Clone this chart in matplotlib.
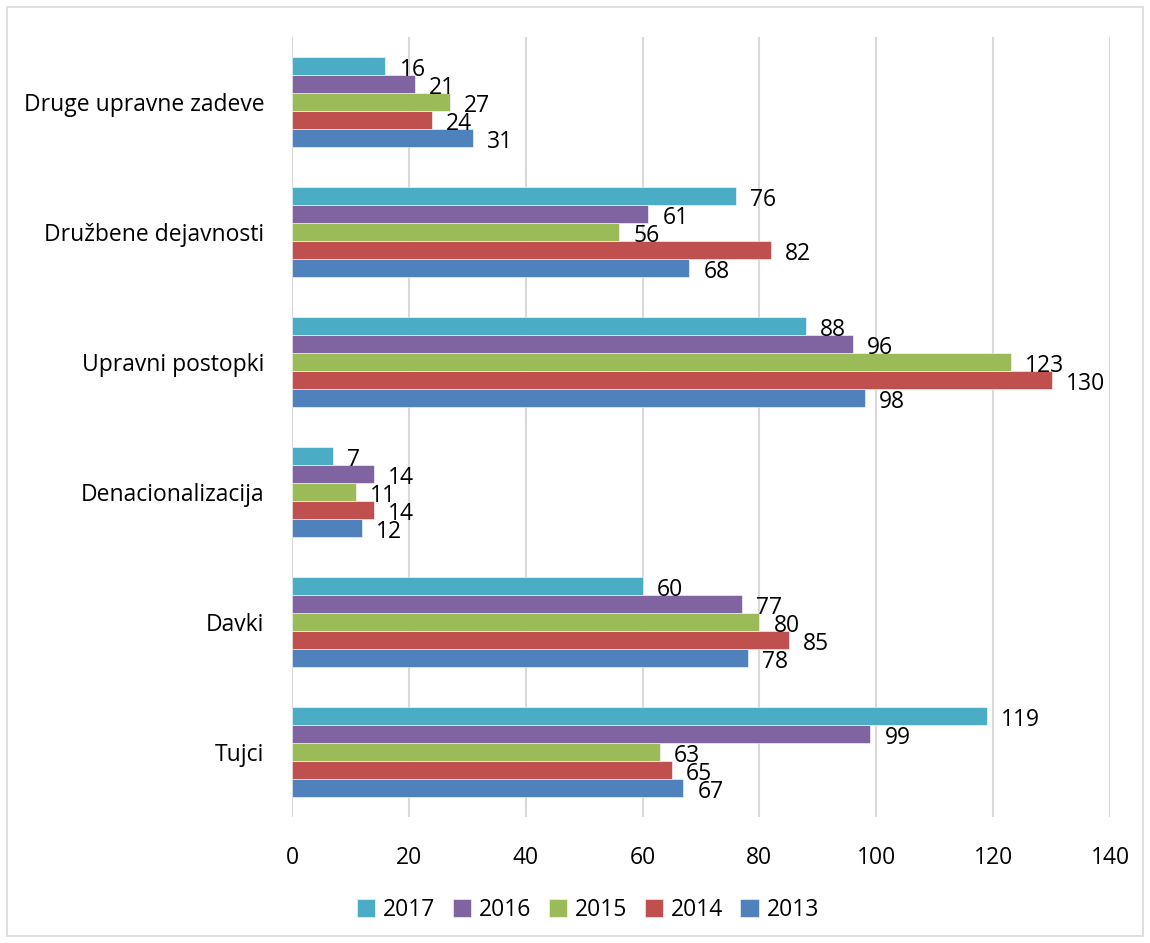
import matplotlib
matplotlib.use("Agg")
import matplotlib.pyplot as plt
from matplotlib.patches import Rectangle
import numpy as np

categories = ["Tujci", "Davki", "Denacionalizacija", "Upravni postopki",
              "Družbene dejavnosti", "Druge upravne zadeve"]
years = ["2013", "2014", "2015", "2016", "2017"]
v2013 = [67, 78, 12, 98, 68, 31]
v2014 = [65, 85, 14, 130, 82, 24]
v2015 = [63, 80, 11, 123, 56, 27]
v2016 = [99, 77, 14, 96, 61, 21]
v2017 = [119, 60, 7, 88, 76, 16]
series = [v2013, v2014, v2015, v2016, v2017]
colors = ["#4F81BD", "#C0504D", "#9BBB59", "#8064A2", "#4BACC6"]
xticks = [0, 20, 40, 60, 80, 100, 120, 140]

plt.rcParams['font.family'] = ['Open Sans', 'DejaVu Sans']
FS = 16.5

fig = plt.figure(figsize=(11.5, 9.43), dpi=100)
ax = fig.add_axes([292/1150, 1-817/943, (1110-292)/1150, (817-37)/943])

h = 18/130
y = np.arange(len(categories))
handles = []
for i, (vals, c, yr) in enumerate(zip(series, colors, years)):
    off = (i - 2) * h
    b = ax.barh(y + off, vals, height=h, color=c, edgecolor='white', linewidth=0.4,
                label=yr, zorder=3)
    handles.append(b)
    for yy, v in zip(y + off, vals):
        ax.text(v + 2.4, yy - 0.03, str(v), va='center', ha='left', fontsize=FS,
                color='black', zorder=4)

ax.set_xlim(0, 140)
ax.set_ylim(-0.5, len(categories) - 0.5)
ax.set_xticks(xticks)
ax.set_xticklabels([str(t) for t in xticks], fontsize=FS)
ax.set_yticks(y)
ax.set_yticklabels(categories, fontsize=FS)
ax.tick_params(axis='x', length=0, pad=21)
ax.tick_params(axis='y', length=0, pad=20)
for s in ax.spines.values():
    s.set_visible(False)
ax.grid(axis='x', color='#D9D9D9', linewidth=1.5, zorder=0)
ax.set_axisbelow(True)

fig.legend(handles[::-1], years[::-1], loc='center', ncol=5,
           bbox_to_anchor=(588/1150, 1-910/943), frameon=False, fontsize=FS,
           handlelength=0.8, handleheight=0.8, handletextpad=0.35,
           columnspacing=0.75)

fig.patches.append(Rectangle((7/1150, 7/943), (1143-7)/1150, (936-7)/943,
                             transform=fig.transFigure, fill=False,
                             edgecolor='#D9D9D9', linewidth=1.2))

fig.savefig("out.png", dpi=100)
